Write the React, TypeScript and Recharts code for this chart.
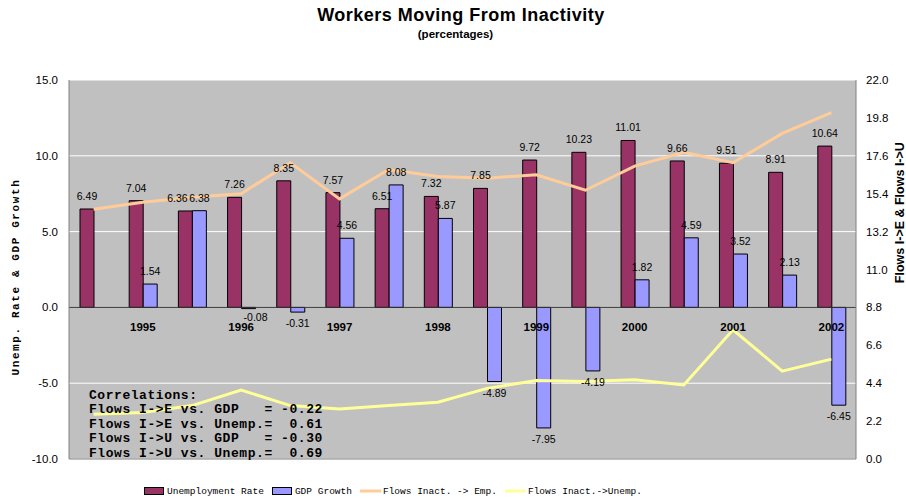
import React from 'react';
import {
  ComposedChart,
  Bar,
  Line,
  XAxis,
  YAxis,
  CartesianGrid,
  ReferenceLine,
  Legend,
  LabelList,
  Label,
} from 'recharts';

// ---------- data ----------
const periods = [
  '1994-2', '1995-1', '1995-2', '1996-1', '1996-2', '1997-1', '1997-2', '1998-1',
  '1998-2', '1999-1', '1999-2', '2000-1', '2000-2', '2001-1', '2001-2', '2002-1',
];
const xTickLabels = [
  '', '1995', '', '1996', '', '1997', '', '1998',
  '', '1999', '', '2000', '', '2001', '', '2002',
];
const unemploymentRate = [6.49, 7.04, 6.36, 7.26, 8.35, 7.57, 6.51, 7.32, 7.85, 9.72, 10.23, 11.01, 9.66, 9.51, 8.91, 10.64];
const gdpGrowth: (number | null)[] = [null, 1.54, 6.38, -0.08, -0.31, 4.56, 8.08, 5.87, -4.89, -7.95, -4.19, 1.82, 4.59, 3.52, 2.13, -6.45];
const flowsInactEmp = [14.5, 14.9, 15.2, 15.4, 17.2, 15.1, 16.8, 16.4, 16.3, 16.5, 15.6, 17.0, 17.8, 17.2, 18.9, 20.1];
const flowsInactUnemp = [2.6, 2.7, 3.1, 4.0, 3.1, 2.9, 3.1, 3.3, 4.1, 4.55, 4.5, 4.6, 4.3, 7.5, 5.1, 5.8];

const seriesNames = ['Unemployment Rate', 'GDP Growth', 'Flows Inact. -> Emp.', 'Flows Inact.->Unemp.'];

const leftTicks = [-10, -5, 0, 5, 10, 15];
const rightTicks = [0, 2.2, 4.4, 6.6, 8.8, 11, 13.2, 15.4, 17.6, 19.8, 22];

const correlationLines = [
  'Correlations:',
  'Flows I->E vs. GDP   = -0.22',
  'Flows I->E vs. Unemp.=  0.61',
  'Flows I->U vs. GDP   = -0.30',
  'Flows I->U vs. Unemp.=  0.69',
];

const chartData = periods.map((p, i) => ({
  period: p,
  unemp: unemploymentRate[i],
  gdp: gdpGrowth[i],
  flowsE: flowsInactEmp[i],
  flowsU: flowsInactUnemp[i],
}));

// ---------- layout ----------
const W = 906;
const H = 501;
const PLOT_TOP = 80;
const PLOT_H = 379;
const LEFT_MIN = -10;
const LEFT_MAX = 15;
const ZERO_Y = PLOT_TOP + (PLOT_H * LEFT_MAX) / (LEFT_MAX - LEFT_MIN);

const SANS = 'Arial, "Liberation Sans", sans-serif';
const MONO = '"Liberation Mono", "DejaVu Sans Mono", monospace';

const YearTick = (props: any) => {
  const { x, index } = props;
  const label = xTickLabels[index] || '';
  if (!label) return null;
  return (
    <text x={x} y={ZERO_Y + 24} textAnchor="middle" fontFamily={SANS} fontWeight="bold" fontSize={11.5} fill="#000">
      {label}
    </text>
  );
};

const BarValueLabel = (props: any) => {
  const { x, y, width, height, value, index, series } = props;
  if (value === null || value === undefined) return null;
  const top = Math.min(y, y + height);
  const bottom = Math.max(y, y + height);
  let cx = x + width / 2;
  // nudge labels of side-by-side bars apart when they would collide
  const u = unemploymentRate[index];
  const g = gdpGrowth[index];
  if (g !== null && g !== undefined && u > 0 && g > 0 && Math.abs(u - g) < 0.8) {
    cx += series === 'unemp' ? -8 : 7;
  }
  const ty = value >= 0 ? top - 9 : bottom + 11 + Math.min(4, Math.abs(height));
  return (
    <text x={cx} y={ty} textAnchor="middle" fontFamily={SANS} fontSize={10.5} fill="#000">
      {Number(value).toFixed(2)}
    </text>
  );
};

const LeftTitle = (props: any) => {
  const vb = props.viewBox || { x: 0, y: PLOT_TOP, width: 69, height: PLOT_H };
  const cx = vb.x + 16;
  const cy = vb.y + vb.height * 0.52;
  return (
    <text
      x={cx}
      y={cy}
      transform={`rotate(-90 ${cx} ${cy})`}
      textAnchor="middle"
      dominantBaseline="central"
      fontFamily={MONO}
      fontWeight="bold"
      fontSize={11}
      letterSpacing={1.6}
      fill="#000"
      style={{ whiteSpace: 'pre' }}
    >
      Unemp. Rate &amp; GDP Growth
    </text>
  );
};

const RightTitle = (props: any) => {
  const vb = props.viewBox || { x: 856, y: PLOT_TOP, width: 50, height: PLOT_H };
  const cx = vb.x + 44.5;
  const cy = vb.y + vb.height * 0.35;
  return (
    <text
      x={cx}
      y={cy}
      transform={`rotate(-90 ${cx} ${cy})`}
      textAnchor="middle"
      dominantBaseline="central"
      fontFamily={SANS}
      fontWeight="bold"
      fontSize={12.5}
      fill="#000"
    >
      Flows I-&gt;E &amp; Flows I-&gt;U
    </text>
  );
};

const LegendContent = (props: any) => {
  const payload = [...(props.payload || [])].sort(
    (a: any, b: any) => seriesNames.indexOf(a.value) - seriesNames.indexOf(b.value)
  );
  return (
    <div style={{ display: 'flex', alignItems: 'center', height: 14, paddingLeft: 144, gap: 8 }}>
      {payload.map((entry: any, i: number) => (
        <div key={i} style={{ display: 'flex', alignItems: 'center' }}>
          <svg width={21} height={10} style={{ display: 'block' }}>
            {entry.type === 'line' ? (
              <line x1={0} y1={5} x2={21} y2={5} stroke={entry.color} strokeWidth={3} />
            ) : (
              <rect x={0.5} y={1.5} width={19} height={7} fill={entry.color} stroke="#000" strokeWidth={1} />
            )}
          </svg>
          <span style={{ fontFamily: MONO, fontSize: 9.5, color: '#000', marginLeft: 2, whiteSpace: 'pre' }}>
            {entry.value}
          </span>
        </div>
      ))}
    </div>
  );
};

export default function App() {
  return (
    <div style={{ position: 'absolute', left: 0, top: 0, width: W, height: H, background: '#fff', fontFamily: SANS }}>
      <ComposedChart
        width={W}
        height={H}
        data={chartData}
        margin={{ top: PLOT_TOP, right: 0, left: 0, bottom: 3 }}
        barGap={0}
        barSize={14}
      >
        <CartesianGrid yAxisId="left" vertical={false} stroke="#ffffff" fill="#C0C0C0" fillOpacity={1} />
        <XAxis
          dataKey="period"
          height={25}
          interval={0}
          tickLine={false}
          axisLine={{ stroke: '#808080' }}
          tick={<YearTick />}
        />
        <YAxis
          yAxisId="left"
          orientation="left"
          width={69}
          domain={[LEFT_MIN, LEFT_MAX]}
          ticks={leftTicks}
          allowDataOverflow
          tickLine={false}
          tickSize={0}
          tickMargin={11}
          axisLine={{ stroke: '#808080' }}
          tickFormatter={(v: number) => v.toFixed(1)}
          tick={{ fill: '#000', fontSize: 11.5, fontFamily: SANS }}
        >
          <Label content={<LeftTitle />} />
        </YAxis>
        <YAxis
          yAxisId="right"
          orientation="right"
          width={50}
          domain={[0, 22]}
          ticks={rightTicks}
          allowDataOverflow
          tickLine={false}
          tickSize={0}
          tickMargin={10}
          axisLine={{ stroke: '#808080' }}
          tickFormatter={(v: number) => v.toFixed(1)}
          tick={{ fill: '#000', fontSize: 11.5, fontFamily: SANS }}
        >
          <Label content={<RightTitle />} />
        </YAxis>
        <ReferenceLine yAxisId="left" y={0} stroke="#333333" strokeWidth={1} />
        <Bar yAxisId="left" dataKey="unemp" name={seriesNames[0]} fill="#993366" stroke="#000" strokeWidth={1} isAnimationActive={false}>
          <LabelList dataKey="unemp" content={<BarValueLabel series="unemp" />} />
        </Bar>
        <Bar yAxisId="left" dataKey="gdp" name={seriesNames[1]} fill="#9999FF" stroke="#000" strokeWidth={1} isAnimationActive={false}>
          <LabelList dataKey="gdp" content={<BarValueLabel series="gdp" />} />
        </Bar>
        <Line yAxisId="right" type="linear" dataKey="flowsE" name={seriesNames[2]} stroke="#FFCC99" strokeWidth={3} dot={false} isAnimationActive={false} />
        <Line yAxisId="right" type="linear" dataKey="flowsU" name={seriesNames[3]} stroke="#FFFF99" strokeWidth={3} dot={false} isAnimationActive={false} />
        <Legend
          verticalAlign="bottom"
          align="left"
          content={<LegendContent />}
          wrapperStyle={{ left: 0, top: 484, bottom: 'auto', width: W }}
        />
      </ComposedChart>
      <svg width={W} height={H} style={{ position: 'absolute', left: 0, top: 0, pointerEvents: 'none' }}>
        <text x={461} y={20.7} textAnchor="middle" fontFamily={SANS} fontWeight="bold" fontSize={18} letterSpacing={0.5} fill="#000">
          Workers Moving From Inactivity
        </text>
        <text x={455.5} y={38} textAnchor="middle" fontFamily={SANS} fontWeight="bold" fontSize={11.5} fill="#000">
          (percentages)
        </text>
        {correlationLines.map((line, i) => (
          <text
            key={i}
            x={89}
            y={398.5 + i * 14.6}
            fontFamily={MONO}
            fontWeight="bold"
            fontSize={13}
            letterSpacing={0.55}
            fill="#000"
            style={{ whiteSpace: 'pre' }}
          >
            {line}
          </text>
        ))}
      </svg>
    </div>
  );
}
